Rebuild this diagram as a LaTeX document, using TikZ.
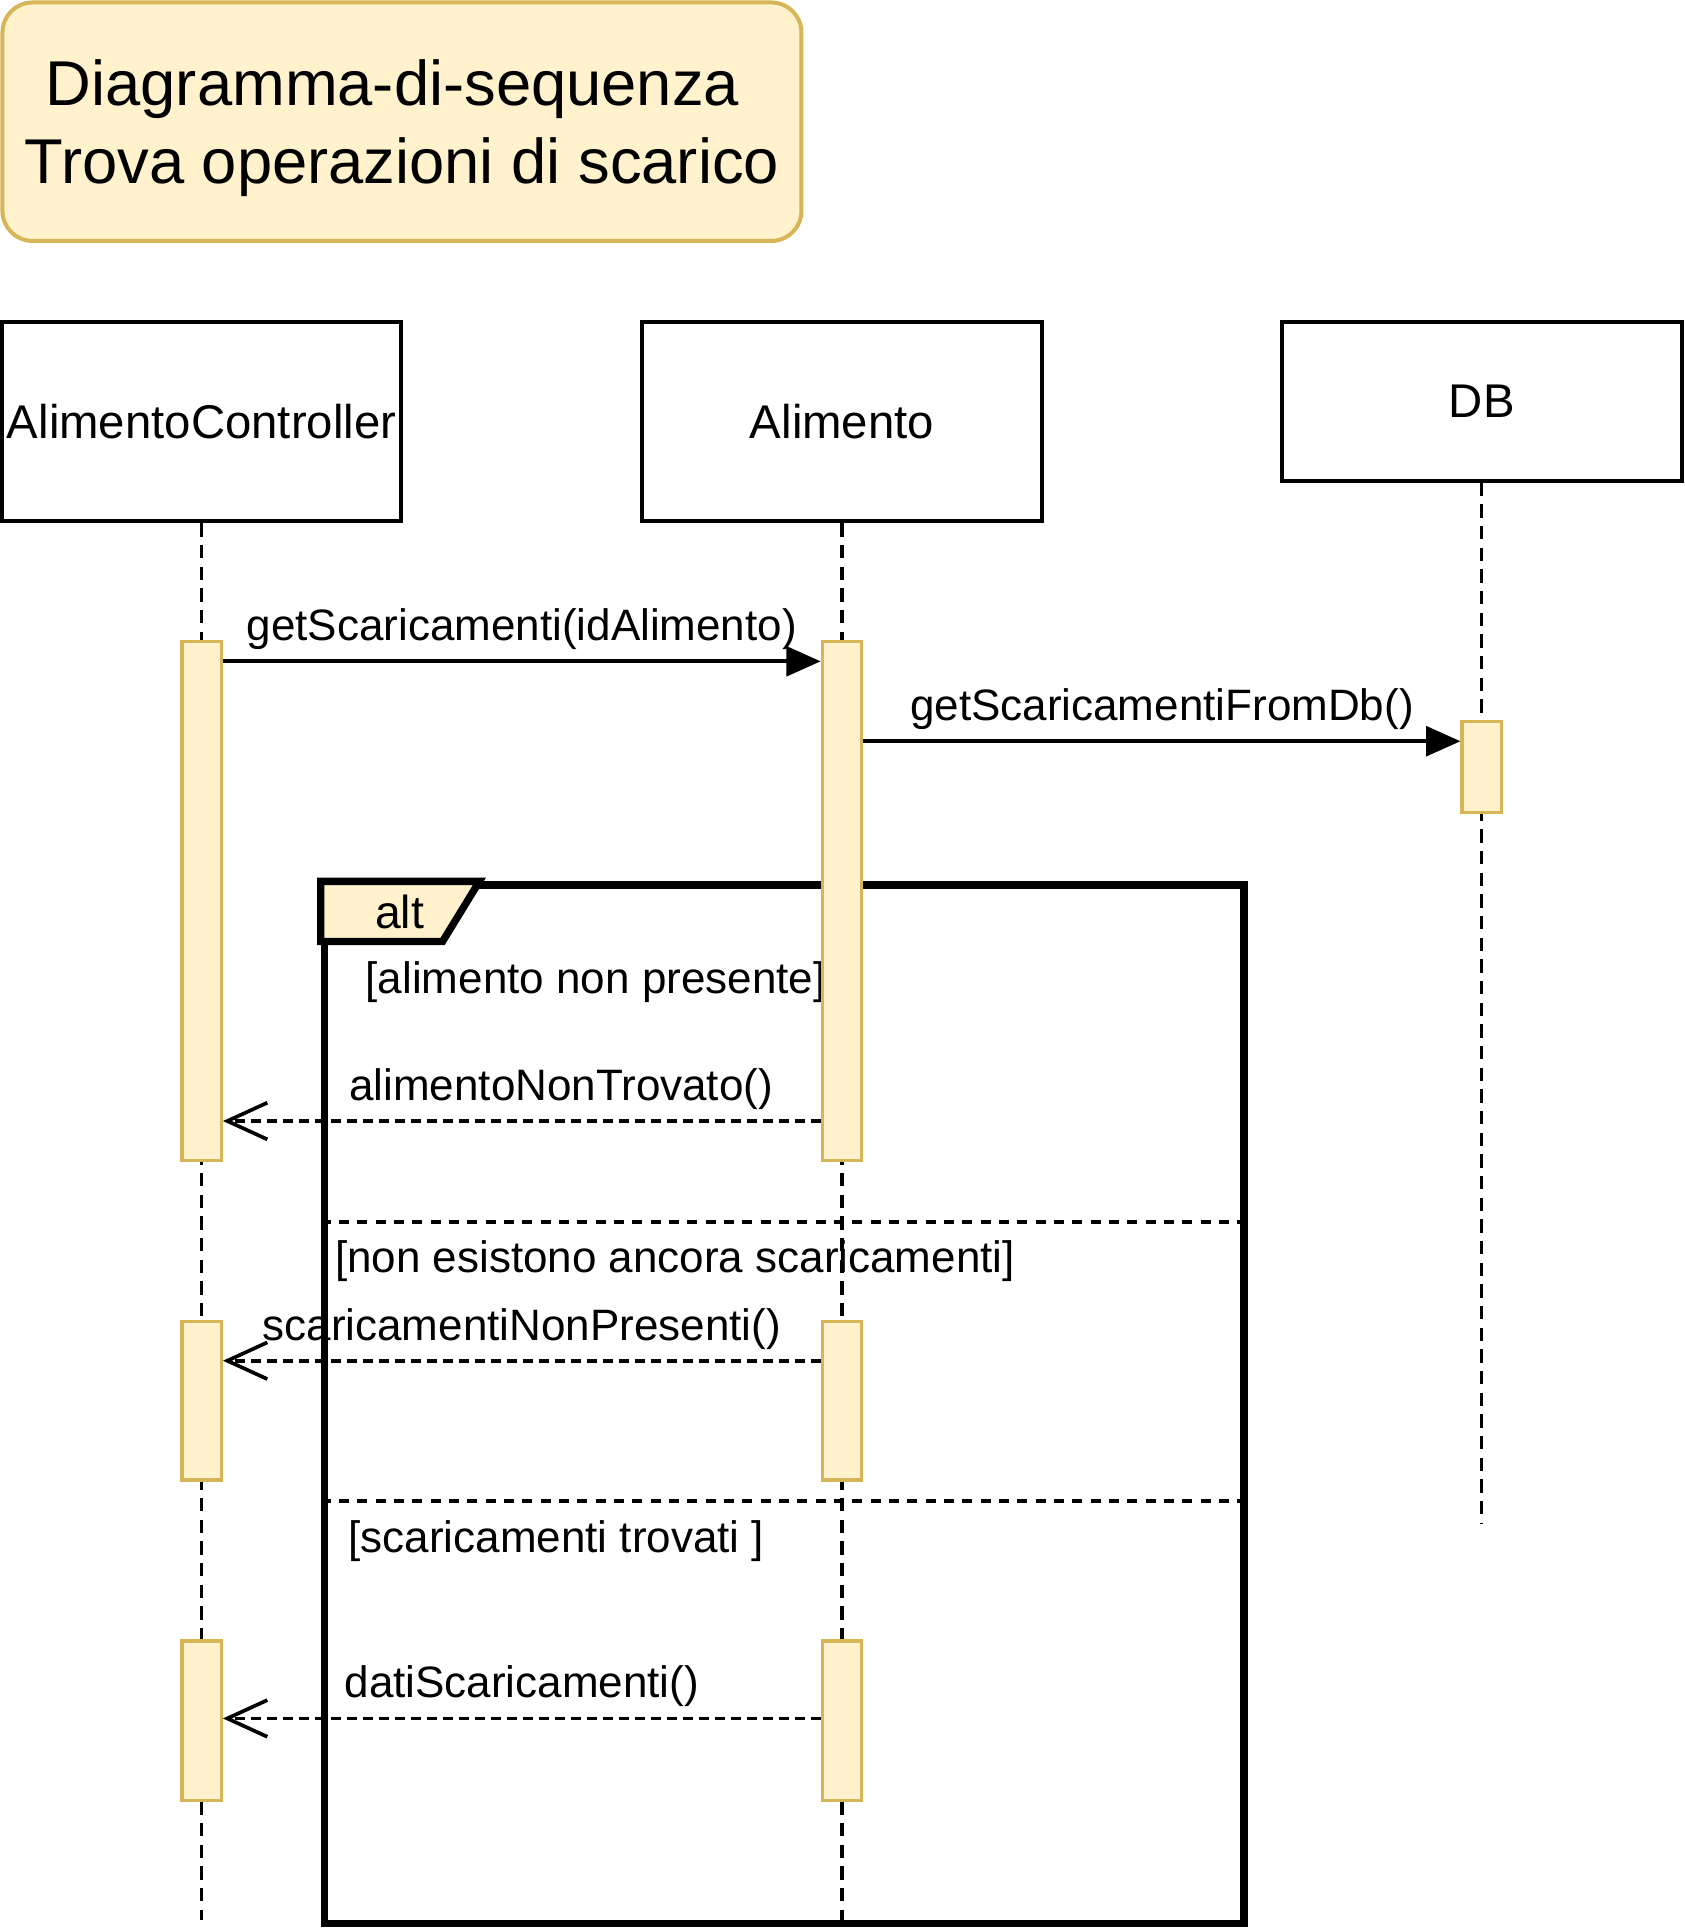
\documentclass[tikz,border=0pt]{standalone}
\usepackage{fontspec}
\setmainfont{Liberation Sans}
\usetikzlibrary{arrows.meta}
\definecolor{barfill}{HTML}{FFF2CC}
\definecolor{bardraw}{HTML}{D6B656}
\newcommand{\px}{0.3688pt}
\tikzset{
	titlebox/.style={draw=bardraw, fill=barfill, line width=1.2pt, rounded corners=9pt,
		minimum width=650*\px, minimum height=194*\px, align=center,
		font=\fontsize{19}{23.6}\selectfont},
	head/.style={draw, line width=1.2pt, minimum width=325*\px, inner sep=0pt,
		font=\fontsize{14.2}{17}\selectfont},
	bar/.style={draw=bardraw, fill=barfill, line width=1pt, minimum width=32*\px, inner sep=0pt},
	life/.style={line width=1pt, dash pattern=on 4pt off 2.5pt},
	altframe/.style={draw, line width=2.2pt, inner sep=0pt},
	tab/.style={draw, fill=barfill, line width=2.2pt, line join=miter},
	sep/.style={line width=1pt, dash pattern=on 3pt off 2.5pt},
	guard/.style={anchor=west, inner sep=0pt, yshift=-4*\px, font=\fontsize{13.2}{16}\selectfont},
	lbl/.style={yshift=26*\px, inner sep=0pt, font=\fontsize{13.2}{16}\selectfont},
	call/.style={line width=1.1pt, -{Triangle[length=10.3pt, width=8.9pt]}},
	ret/.style={line width=1.1pt, dash pattern=on 2.8pt off 2pt,
		-{Straight Barb[length=12pt, width=11pt, line width=1.1pt]}}
}
\begin{document}
\begin{tikzpicture}[x=\px, y=-\px]
	\useasboundingbox (0,0) rectangle (1370,1568.5);
	% titolo
	\node[titlebox] (titolo) at (327,99) {\rule{0pt}{17.6pt}Diagramma-di-sequenza\hspace*{0.3em}\\Trova operazioni di scarico};
	% partecipanti
	\node[head, minimum height=162*\px] (ctrl) at (164,343) {AlimentoController};
	\node[head, minimum height=162*\px] (alim) at (685,343) {Alimento};
	\node[head, minimum height=129*\px] (db) at (1205.5,326.5) {DB};
	% frammento alt
	\node[altframe, anchor=north west, minimum width=748*\px, minimum height=845*\px] (alt) at (261,717) {};
	\draw[tab] (alt.north west) -- ++(129,0) -- ++(-30,49) -- ++(-99,0) -- cycle;
	\node[inner sep=0pt, font=\fontsize{13.9}{16}\selectfont] (altname) at (325,742) {alt};
	\node[guard] (g1) at (297,795) {[alimento non presente]};
	\node[guard] (g2) at (272,1022) {[non esistono ancora scaricamenti]};
	\node[guard] (g3) at (283,1250) {[scaricamenti trovati ]};
	\coordinate (s1) at (0,994);
	\coordinate (s2) at (0,1221);
	\foreach \s in {s1,s2}
		{\draw[sep] (alt.west |- \s) -- (alt.east |- \s);}
	% linee di vita
	\coordinate (ctrlEnd) at (164,1562);
	\coordinate (alimEnd) at (685,1562);
	\coordinate (dbEnd) at (1205.5,1240);
	\foreach \n in {ctrl,alim,db}
		{\draw[life] (\n) -- (\n End);}
	% attivazioni
	\foreach \n/\x/\y/\h in {ctrlA/164/733/422, alimA/685/733/422, dbA/1205.5/624/74,
		ctrlB/164/1139.5/129, alimB/685/1139.5/129, ctrlC/164/1400/130, alimC/685/1400/130}
		{\node[bar, minimum height=\h*\px] (\n) at (\x,\y) {};}
	% messaggi
	\coordinate (m1) at (0,538);
	\coordinate (m2) at (0,603);
	\coordinate (m3) at (0,912);
	\coordinate (m4) at (0,1107);
	\coordinate (m5) at (0,1398);
	\draw[call] (ctrlA.east |- m1) -- node[lbl] {getScaricamenti(idAlimento)} (alimA.west |- m1);
	\draw[call] (alimA.east |- m2) -- node[lbl] {getScaricamentiFromDb()} (dbA.west |- m2);
	\draw[ret] (alimA.west |- m3) -- node[lbl, xshift=32*\px] {alimentoNonTrovato()} (ctrlA.east |- m3);
	\draw[ret] (alimB.west |- m4) -- node[lbl] {scaricamentiNonPresenti()} (ctrlB.east |- m4);
	\draw[ret] (alimC.west |- m5) -- node[lbl] {datiScaricamenti()} (ctrlC.east |- m5);
\end{tikzpicture}
\end{document}
